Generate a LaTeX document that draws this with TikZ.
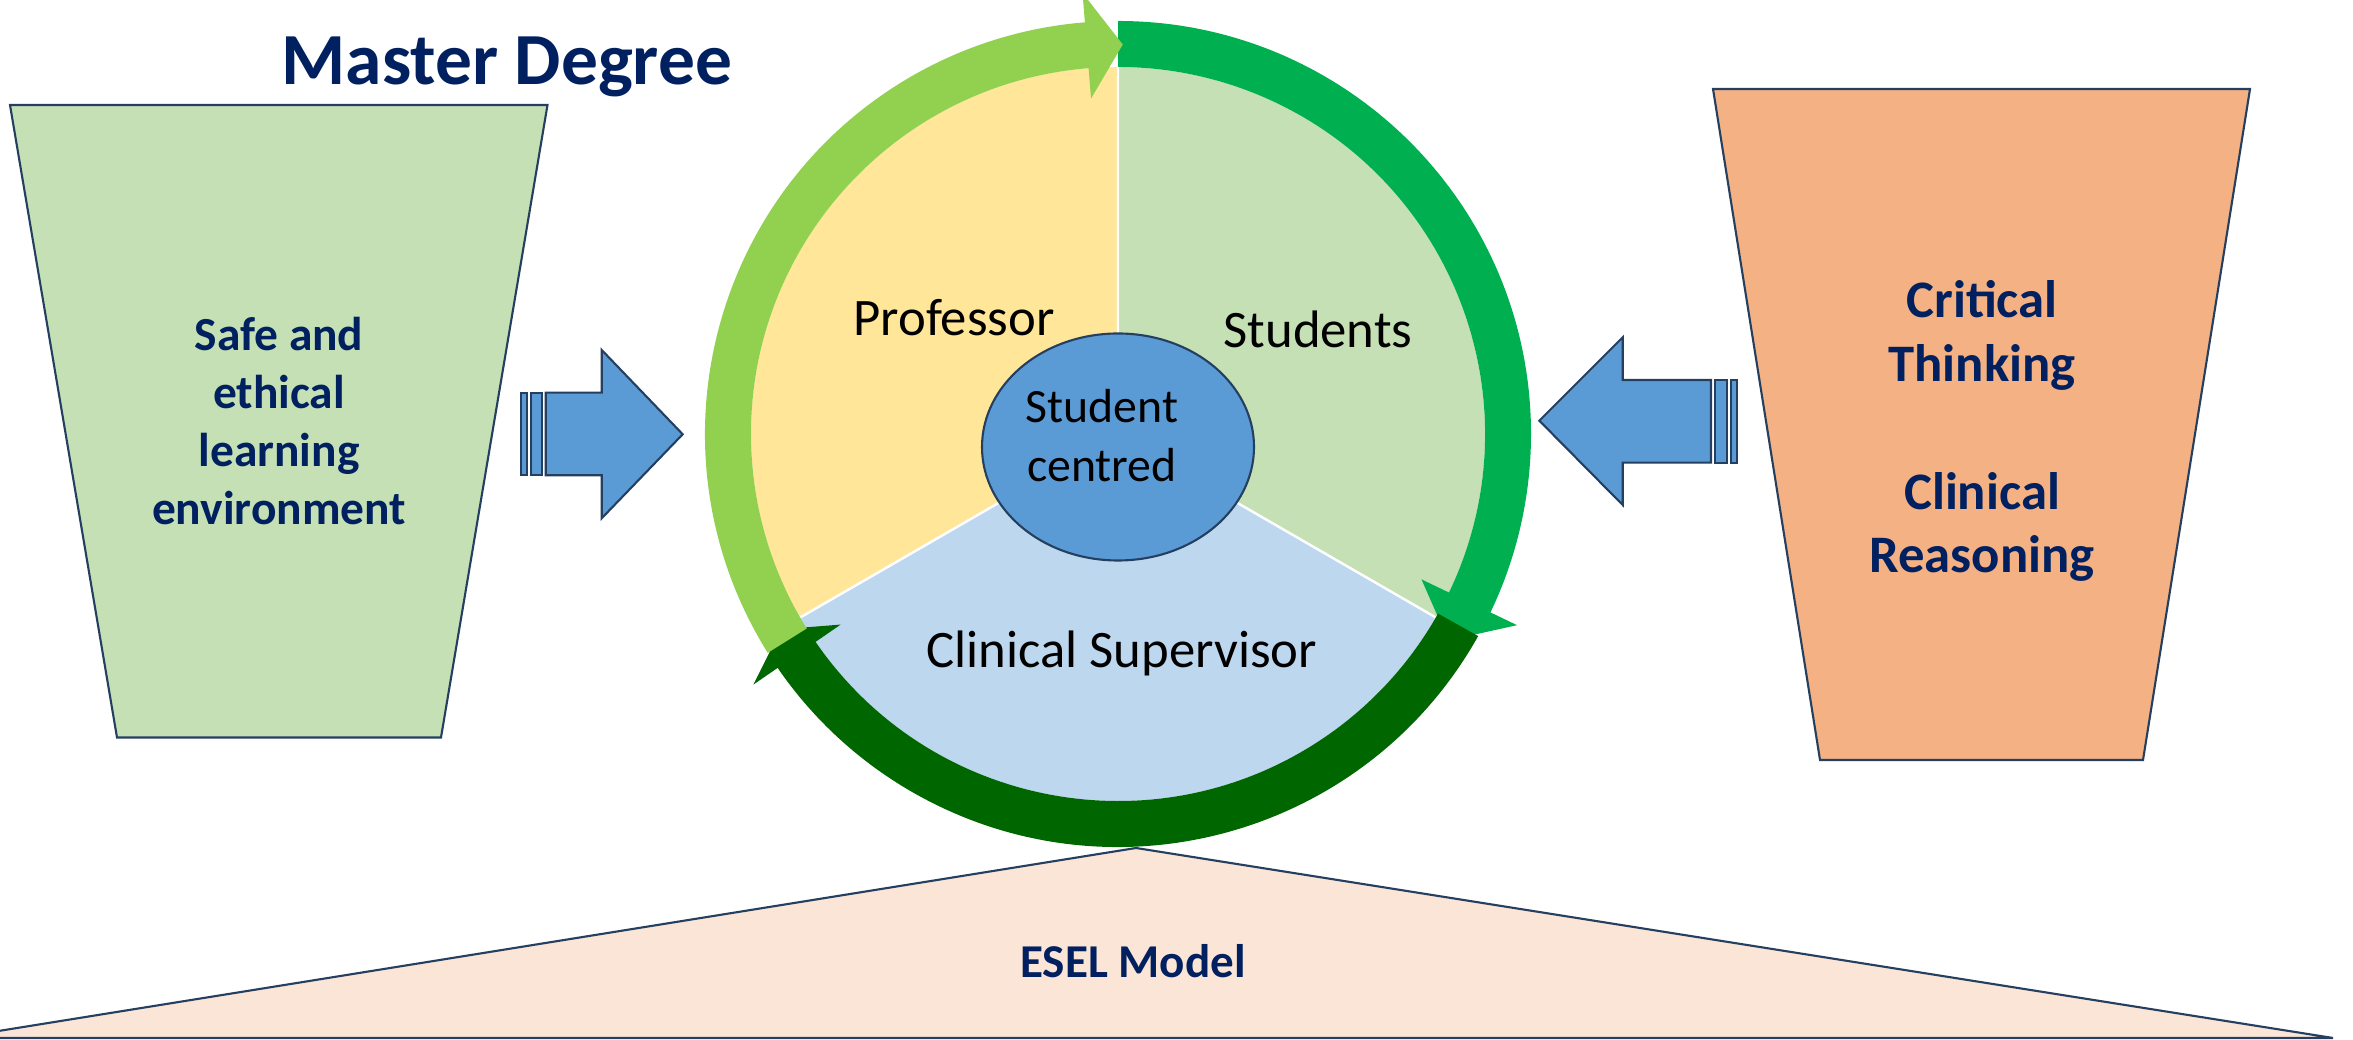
\documentclass[tikz,border=0pt]{standalone}
\usepackage{fontspec}
\setmainfont{Carlito}
\usetikzlibrary{shapes.geometric}

\definecolor{navy}{HTML}{002060}
\definecolor{rimlight}{HTML}{92D050}
\definecolor{rimmid}{HTML}{00B050}
\definecolor{rimdark}{HTML}{006600}
\definecolor{profyellow}{HTML}{FFE699}
\definecolor{studgreen}{HTML}{C5E0B4}
\definecolor{supblue}{HTML}{BDD7EE}
\definecolor{hubblue}{HTML}{5B9BD5}
\definecolor{outline}{HTML}{243F60}
\definecolor{orangebox}{HTML}{F4B183}
\definecolor{peach}{HTML}{FBE5D6}

\begin{document}
\begin{tikzpicture}[
	box/.style={draw=outline, line width=0.6pt},
	navytext/.style={text=navy, align=center},
	pietext/.style={font=\fontsize{15}{18}\selectfont, anchor=base}]

	\useasboundingbox (0,0) rectangle (23.53,10.40);
	\clip (0,0) rectangle (23.53,10.40);

	\node[navytext, font=\bfseries\fontsize{20.9}{24}\selectfont, anchor=base] (master) at (5.07,9.55) {Master Degree};

	% side boxes
	\draw[box, fill=studgreen] (0.10,9.35) -- (5.475,9.35) -- (4.41,3.025) -- (1.17,3.025) -- cycle;
	\node[navytext, font=\bfseries\fontsize{13.5}{16.5}\selectfont] (safe) at (2.79,6.185)
		{Safe and\\ethical\\learning\\environment};

	\draw[box, fill=orangebox] (17.13,9.51) -- (22.50,9.51) -- (21.43,2.80) -- (18.20,2.80) -- cycle;
	\node[navytext, font=\bfseries\fontsize{15}{18.2}\selectfont] (critical) at (19.82,6.09)
		{Critical\\Thinking\\[18.2pt]Clinical\\Reasoning};

	% striped arrows
	\draw[box, fill=hubblue] (5.207,5.647) rectangle (5.267,6.473);
	\draw[box, fill=hubblue] (5.307,5.647) rectangle (5.42,6.473);
	\draw[box, fill=hubblue] (5.457,5.647) -- (6.017,5.647) -- (6.017,5.217) -- (6.827,6.057)
		-- (6.017,6.90) -- (6.017,6.473) -- (5.457,6.473) -- cycle;

	\draw[box, fill=hubblue] (17.307,5.773) rectangle (17.367,6.60);
	\draw[box, fill=hubblue] (17.15,5.773) rectangle (17.267,6.60);
	\draw[box, fill=hubblue] (17.11,5.773) -- (16.227,5.773) -- (16.227,5.35) -- (15.393,6.193)
		-- (16.227,7.027) -- (16.227,6.60) -- (17.11,6.60) -- cycle;

	% pie and rim
	\begin{scope}[shift={(11.18,6.06)}]
		\fill[profyellow] (0,0) -- (90:3.67) arc[start angle=90, end angle=210, radius=3.67] -- cycle;
		\fill[supblue] (0,0) -- (210:3.67) arc[start angle=210, end angle=330, radius=3.67] -- cycle;
		\fill[studgreen] (0,0) -- (330:3.67) arc[start angle=330, end angle=450, radius=3.67] -- cycle;
		\draw[white, line width=0.7pt] (0,0) -- (90:3.67) (0,0) -- (210:3.67) (0,0) -- (330:3.67);

		\fill[rimmid] (90:4.13) arc[start angle=90, end angle=-25.6, radius=4.13]
			-- (-25.6:4.425) -- (-32:3.895) -- (-25.6:3.365) -- (-25.6:3.67)
			arc[start angle=-25.6, end angle=90, radius=3.67] -- cycle;
		\fill[rimdark] (-29.3:4.13) arc[start angle=-29.3, end angle=-145.5, radius=4.13]
			-- (-145.5:4.425) -- (-149.9:3.895) -- (-145.5:3.365) -- (-145.5:3.67)
			arc[start angle=-145.5, end angle=-29.3, radius=3.67] -- cycle;
		\fill[rimlight] (212:4.13) arc[start angle=212, end angle=94.6, radius=4.13]
			-- (94.6:4.425) -- (89.3:3.895) -- (94.6:3.365) -- (94.6:3.67)
			arc[start angle=94.6, end angle=212, radius=3.67] -- cycle;
	\end{scope}

	\node[pietext] (prof) at (9.54,7.04) {Professor};
	\node[pietext] (stud) at (13.18,6.92) {Students};
	\node[pietext] (sup) at (11.22,3.72) {Clinical Supervisor};

	\node[box, fill=hubblue, ellipse, minimum width=2.72cm, minimum height=2.27cm, inner sep=0pt] (hub) at (11.18,5.93) {};
	\node[font=\fontsize{13.6}{16.8}\selectfont, align=center] (hubtext) at (11.02,6.04) {Student\\centred};

	% base
	\draw[box, fill=peach] (-0.45,0.02) -- (11.36,1.92) -- (23.33,0.02) -- cycle;
	\node[navytext, font=\bfseries\fontsize{13.4}{16}\selectfont, anchor=base] (esel) at (11.33,0.62) {ESEL Model};

\end{tikzpicture}
\end{document}
